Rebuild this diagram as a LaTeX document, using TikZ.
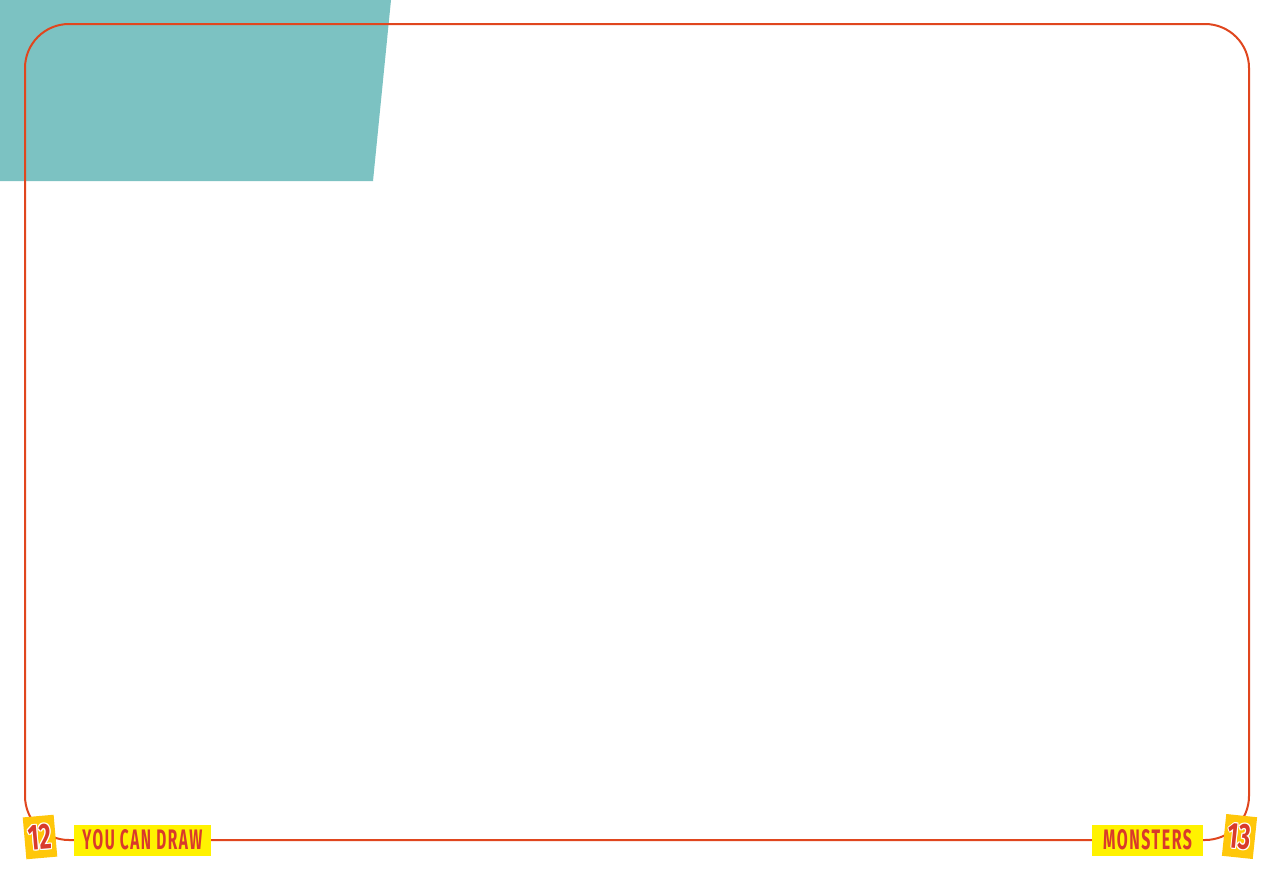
\documentclass[tikz,border=0pt]{standalone}
\usepackage{fontspec}
\usetikzlibrary{calc}
\setmainfont{Fira Sans}
\newfontfamily\labfont[LetterSpace=10]{Fira Sans}
\newfontfamily\numfont{Fira Sans}
\definecolor{teal1}{HTML}{7CC2C2}
\definecolor{frameor}{HTML}{E0461E}
\definecolor{labred}{HTML}{D93A2B}
\definecolor{labyel}{HTML}{FFF200}
\definecolor{badgeyel}{HTML}{FFC70A}
\tikzset{
  labbox/.style={fill=labyel, inner sep=0pt, minimum height=31pt, text=labred},
  badge/.style={fill=badgeyel, inner sep=0pt, minimum width=31pt, minimum height=42pt},
  badgetxt/.style={inner sep=0pt, text=labred},
}
\newcommand{\badgenum}[1]{\resizebox{23pt}{25pt}{\numfont\bfseries #1}}
\begin{document}
\begin{tikzpicture}[x=1pt,y=-1pt]
\useasboundingbox (0,0) rectangle (1280,879);
\fill[white] (0,0) rectangle (1280,879);
% teal panel
\fill[teal1] (0,0) -- (391,0) -- (373,181) -- (0,181) -- cycle;
% frame
\draw[frameor, line width=2pt, rounded corners=44pt] (25,24) rectangle (1249,840);
% labels
\node[labbox, minimum width=137pt] (lleft) at (142.5,840) {\resizebox{120pt}{20pt}{\labfont\bfseries YOU CAN DRAW}};
\node[labbox, minimum width=111pt] (lright) at (1147.5,840) {\resizebox{89pt}{20pt}{\labfont\bfseries MONSTERS}};
% badges
\node[badge, rotate=5] (b12) at (40,837) {};
\foreach \dx/\dy in {-1/0,1/0,0/-1,0/1,-0.7/-0.7,0.7/0.7,-0.7/0.7,0.7/-0.7}{
  \node[badgetxt, text=white, rotate=5] at ($(b12)+(\dx,\dy)$) {\badgenum{12}};
}
\node[badgetxt, rotate=5] (t12) at (b12) {\badgenum{12}};
\node[badge, rotate=-6] (b13) at (1239.5,836.5) {};
\foreach \dx/\dy in {-1/0,1/0,0/-1,0/1,-0.7/-0.7,0.7/0.7,-0.7/0.7,0.7/-0.7}{
  \node[badgetxt, text=white, rotate=-6] at ($(b13)+(\dx,\dy)$) {\badgenum{13}};
}
\node[badgetxt, rotate=-6] (t13) at (b13) {\badgenum{13}};
\end{tikzpicture}
\end{document}
